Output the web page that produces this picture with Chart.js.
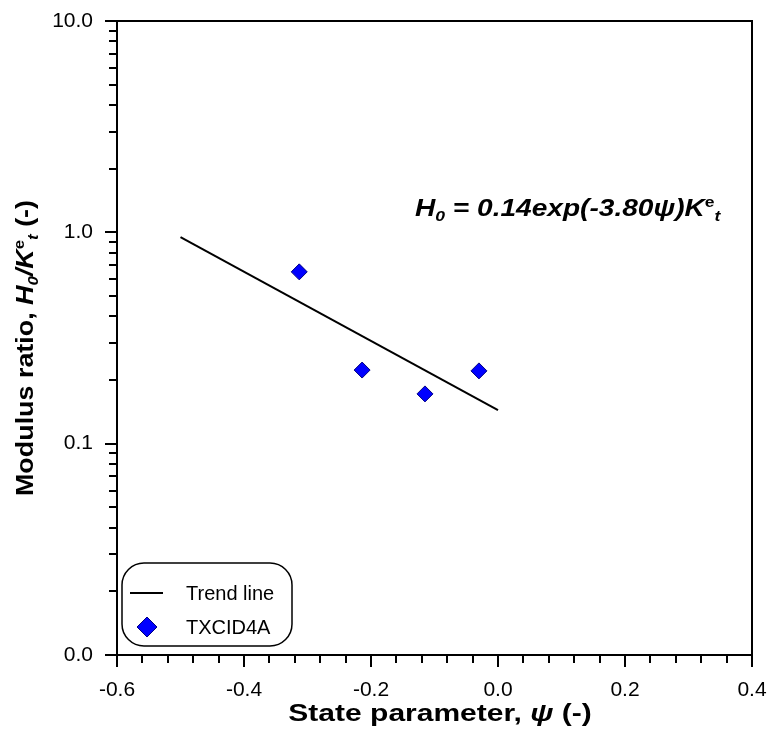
<!DOCTYPE html>
<html>
<head>
<meta charset="utf-8">
<script src="https://cdn.jsdelivr.net/npm/chart.js@4"></script>
<style>
  body { margin: 0; background: #fff; }
  #wrap { width: 769px; height: 734px; }
</style>
</head>
<body>
<div id="wrap"><canvas id="chart"></canvas></div>
<script>
// measured points (state parameter vs modulus ratio)
const psi = [-0.313, -0.214, -0.115, -0.030];
const ratio = [0.65, 0.223, 0.172, 0.221];
// trend line end points
const trendPsi = [-0.5, 0.0];
const trendRatio = [0.95, 0.144];
// axis ranges / labelled ticks
const xRange = [-0.6, 0.4];
const yRange = [0.01, 10];
const yMajor = [0.01, 0.1, 1, 10];

const FONT = "'Liberation Sans', Arial, sans-serif";

// draws a list of [text, font, dy] segments one after another,
// stretched horizontally by sx
function richText(ctx, parts, x, y, align, sx) {
  let w = 0;
  parts.forEach(function(p) { ctx.font = p[1]; w += ctx.measureText(p[0]).width; });
  ctx.save();
  ctx.translate(x, y);
  ctx.scale(sx, 1);
  let cx = align === 'center' ? -w / 2 : 0;
  ctx.textBaseline = 'alphabetic';
  ctx.textAlign = 'left';
  parts.forEach(function(p) {
    ctx.font = p[1];
    ctx.fillText(p[0], cx, p[2] || 0);
    cx += ctx.measureText(p[0]).width;
  });
  ctx.restore();
}

const B = "bold 24px " + FONT;
const BI = "italic bold 24px " + FONT;
const SBI = "italic bold 15px " + FONT;
const SB = "bold 15px " + FONT;

const framePlugin = {
  id: 'frame',
  afterDraw: function(chart) {
    const ctx = chart.ctx;
    const a = chart.chartArea;
    const xs = chart.scales.x, ys = chart.scales.y;
    ctx.save();
    ctx.strokeStyle = '#000';
    ctx.lineWidth = 2;
    ctx.strokeRect(a.left, a.top, a.right - a.left, a.bottom - a.top);

    // y ticks (log, outside)
    ctx.beginPath();
    for (let n = -2; n <= 1; n++) {
      for (let m = 1; m <= 9; m++) {
        const v = m * Math.pow(10, n);
        if (v > yRange[1] * 1.0001) break;
        const py = Math.round(ys.getPixelForValue(v));
        const len = m === 1 ? 12 : 8;
        ctx.moveTo(a.left, py);
        ctx.lineTo(a.left - len, py);
      }
    }
    // x ticks every 0.04, major every 0.2
    for (let i = 0; i <= 25; i++) {
      const v = xRange[0] + i * 0.04;
      const px = Math.round(xs.getPixelForValue(v));
      const len = i % 5 === 0 ? 12 : 8;
      ctx.moveTo(px, a.bottom);
      ctx.lineTo(px, a.bottom + len);
    }
    ctx.stroke();

    ctx.fillStyle = '#000';
    // x title
    richText(ctx, [["State parameter, ", B], ["\u03C8", BI], [" (-)", B]], 440, 721, 'center', 1.25);

    // y title
    ctx.save();
    ctx.translate(33, 348);
    ctx.rotate(-Math.PI / 2);
    richText(ctx, [["Modulus ratio, ", B], ["H", BI], ["0", SBI, 5], ["/", BI], ["K", BI],
      ["e", SB, -9], ["t", SBI, 5], [" (-)", B]], 0, 0, 'center', 1.12);
    ctx.restore();

    // equation
    richText(ctx, [["H", BI], ["0", SBI, 5], [" = 0.14exp(-3.80\u03C8)K", BI],
      ["e", SB, -9], ["t", SBI, 5]], 415, 216, 'left', 1.17);

    // legend box
    const lx = 122, ly = 563, lw = 170, lh = 83, r = 22;
    ctx.lineWidth = 1.5;
    ctx.beginPath();
    ctx.roundRect(lx, ly, lw, lh, r);
    ctx.fillStyle = '#fff';
    ctx.fill();
    ctx.stroke();
    ctx.lineWidth = 2;
    ctx.beginPath();
    ctx.moveTo(130, 593);
    ctx.lineTo(163, 593);
    ctx.stroke();
    ctx.fillStyle = '#0000ff';
    ctx.strokeStyle = '#000080';
    ctx.lineWidth = 1;
    Chart.helpers.drawPoint(ctx, { pointStyle: 'rectRot', radius: 10, rotation: 0, borderWidth: 1 }, 147, 627);
    ctx.fillStyle = '#000';
    ctx.font = "20px " + FONT;
    ctx.textBaseline = 'middle';
    ctx.fillText("Trend line", 186, 594);
    ctx.fillText("TXCID4A", 186, 628);
    ctx.restore();
  }
};

function noPad(s) {
  s.paddingTop = 0; s.paddingBottom = 0; s.paddingLeft = 0; s.paddingRight = 0;
}

new Chart(document.getElementById('chart'), {
  type: 'scatter',
  data: {
    datasets: [
      {
        label: 'Trend line',
        type: 'line',
        data: trendPsi.map(function(x, i) { return { x: x, y: trendRatio[i] }; }),
        borderColor: '#000',
        borderWidth: 2,
        pointRadius: 0,
        fill: false
      },
      {
        label: 'TXCID4A',
        data: psi.map(function(x, i) { return { x: x, y: ratio[i] }; }),
        pointStyle: 'rectRot',
        pointRadius: 8,
        pointHoverRadius: 8,
        backgroundColor: '#0000ff',
        borderColor: '#000080',
        borderWidth: 1
      }
    ]
  },
  options: {
    responsive: true,
    maintainAspectRatio: false,
    animation: false,
    layout: { padding: { left: 0, top: 21, right: 17, bottom: 0 } },
    plugins: { legend: { display: false }, tooltip: { enabled: false } },
    scales: {
      x: {
        type: 'linear',
        min: xRange[0],
        max: xRange[1],
        afterFit: function(s) { s.height = 79; noPad(s); },
        grid: { display: false, drawTicks: false },
        border: { display: false },
        ticks: {
          stepSize: 0.2,
          padding: 23,
          color: '#000',
          font: { size: 21, family: FONT },
          maxRotation: 0,
          callback: function(v) { return Number(v).toFixed(1); }
        }
      },
      y: {
        type: 'logarithmic',
        min: yRange[0],
        max: yRange[1],
        afterFit: function(s) { s.width = 117; noPad(s); },
        afterBuildTicks: function(s) { s.ticks = yMajor.map(function(v) { return { value: v }; }); },
        grid: { display: false, drawTicks: false },
        border: { display: false },
        ticks: {
          padding: 24,
          color: '#000',
          font: { size: 21, family: FONT },
          callback: function(v) { return Number(v).toFixed(1); }
        }
      }
    }
  },
  plugins: [framePlugin]
});
</script>
</body>
</html>
